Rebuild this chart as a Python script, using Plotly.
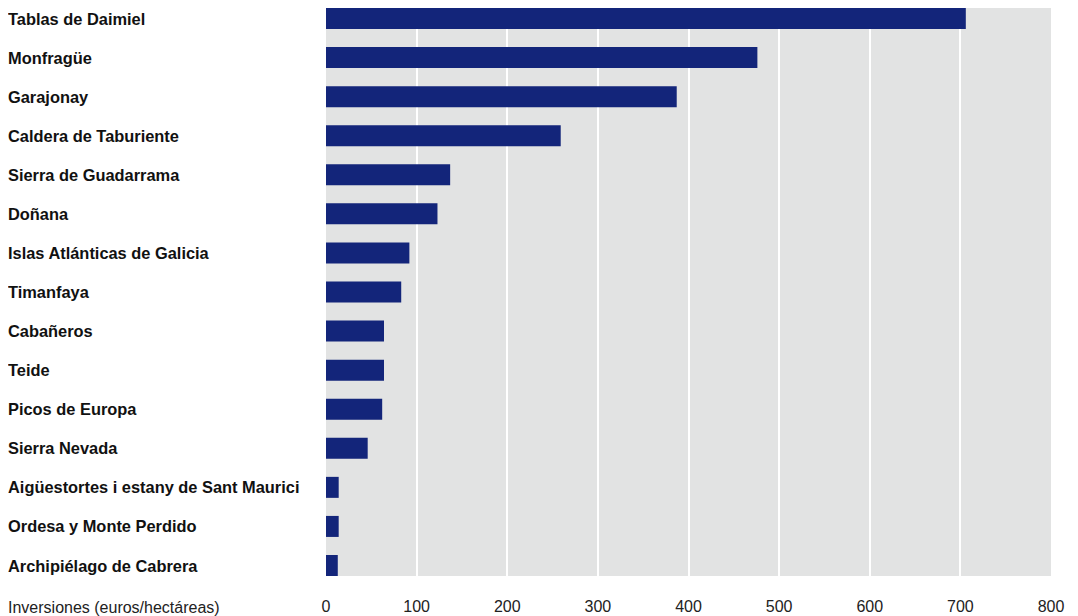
import plotly.graph_objects as go

parks = [
    "Tablas de Daimiel", "Monfragüe", "Garajonay", "Caldera de Taburiente",
    "Sierra de Guadarrama", "Doñana", "Islas Atlánticas de Galicia", "Timanfaya",
    "Cabañeros", "Teide", "Picos de Europa", "Sierra Nevada",
    "Aigüestortes i estany de Sant Maurici", "Ordesa y Monte Perdido",
    "Archipiélago de Cabrera",
]
values = [706, 476, 387, 259, 137, 123, 92, 83, 64, 64, 62, 46, 14, 14, 13]
x_ticks = [0, 100, 200, 300, 400, 500, 600, 700, 800]
x_title = "Inversiones (euros/hectáreas)"

# page shows the figure with an 8px body offset
W, H = 1078, 616
L, R, T, B = 318, 35, 0, 48
bar_frac = 0.5375
FONT = "Liberation Sans, Arial, sans-serif"
plot_w = W - L - R
plot_h = H - T - B

fig = go.Figure(go.Bar(
    x=values, y=list(range(len(parks))), orientation="h",
    marker=dict(color="#13257A", line=dict(width=0)),
    width=bar_frac, hoverinfo="skip",
))

annotations = []
for i, name in enumerate(parks):
    annotations.append(dict(
        x=-(L + 2) / plot_w, xref="paper", y=i, yref="y",
        text=name, showarrow=False, xanchor="left", yanchor="middle",
        font=dict(family=FONT, size=16.4, color="#111111", weight="bold"),
    ))
annotations.append(dict(
    x=-(L + 2) / plot_w, xref="paper", y=-(599 - (H - B)) / plot_h, yref="paper",
    text=x_title, showarrow=False, xanchor="left", yanchor="middle",
    font=dict(family=FONT, size=16, color="#222222"),
))

fig.update_layout(
    width=W, height=H,
    margin=dict(l=L, r=R, t=T, b=B, pad=0),
    paper_bgcolor="white", plot_bgcolor="#E2E3E3",
    showlegend=False,
    font=dict(family=FONT, size=16, color="#222222"),
    annotations=annotations,
    xaxis=dict(
        range=[0, 800], tickvals=x_ticks, ticktext=[str(v) for v in x_ticks],
        showgrid=True, gridcolor="white", gridwidth=2,
        zeroline=False, showline=False, ticks="", ticklabelstandoff=19,
        tickfont=dict(family=FONT, size=16, color="#222222"),
        fixedrange=True,
    ),
    yaxis=dict(
        range=[len(parks) - 1 + bar_frac / 2, -bar_frac / 2],
        showticklabels=False, showgrid=False, zeroline=False, showline=False,
        ticks="", fixedrange=True,
    ),
)

fig.write_html("out.html")
